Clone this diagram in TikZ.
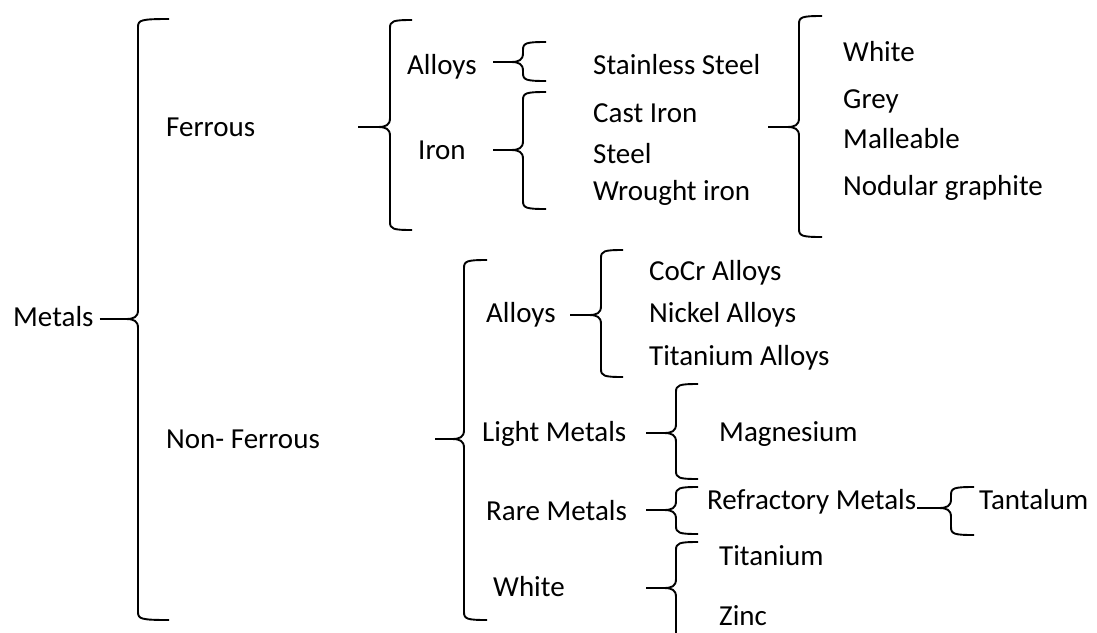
\documentclass[tikz,border=0pt]{standalone}
\usepackage{fontspec}
\setmainfont{Carlito}
\begin{document}
\begin{tikzpicture}[x=1pt,y=-1pt,
  curly/.style={line width=1.9pt, line join=round},
  lbl/.style={anchor=base west, inner sep=0pt, font=\fontsize{29}{34}\selectfont}]
\useasboundingbox (0,0) rectangle (1097,632);
\clip (0,0) rectangle (1097,632);

% #1 tip name, #2 spine x, #3 top y, #4 tip y, #5 bottom y, #6 end x of the hooks
\newcommand{\drawcurly}[6]{%
  \coordinate (#1) at (#2-12,#4);
  \draw[curly] (#6,#3) .. controls (#2+3,#3) and (#2,#3+1) .. (#2,#3+8)
    -- (#2,#4-9) .. controls (#2,#4-2) and (#2-4,#4) .. (#1)
    .. controls (#2-4,#4) and (#2,#4+2) .. (#2,#4+9)
    -- (#2,#5-8) .. controls (#2,#5-1) and (#2+3,#5) .. (#6,#5);
}

% labels
\node[lbl] (metals) at (13,326) {Metals};
\node[lbl] (ferrous) at (166,136) {Ferrous};
\node[lbl] (nonferrous) at (166,448) {Non- Ferrous};
\node[lbl] (falloys) at (407,74) {Alloys};
\node[lbl] (iron) at (418,159) {Iron};
\node[lbl] (stainless) at (593,74) {Stainless Steel};
\node[lbl] (castiron) at (593,122) {Cast Iron};
\node[lbl] (steel) at (593,163) {Steel};
\node[lbl] (wrought) at (593,200) {Wrought iron};
\node[lbl] (cwhite) at (843,61) {White};
\node[lbl] (grey) at (843,108) {Grey};
\node[lbl] (malleable) at (843,148) {Malleable};
% the text box of this label trims its descenders
\begin{scope}
  \clip (835,160) rectangle (1070,199);
  \node[lbl] (nodular) at (843,195) {Nodular graphite};
\end{scope}
\node[lbl] (nfalloys) at (486,322) {Alloys};
\node[lbl] (light) at (482,441) {Light Metals};
\node[lbl] (rare) at (486,520) {Rare Metals};
\node[lbl] (nfwhite) at (493,596) {White};
\node[lbl] (cocr) at (649,280) {CoCr Alloys};
\node[lbl] (nickel) at (649,322) {Nickel Alloys};
\node[lbl] (titalloys) at (649,365) {Titanium Alloys};
\node[lbl] (magnesium) at (719,441) {Magnesium};
\node[lbl] (refr) at (707,509) {Refractory Metals};
\node[lbl] (tantalum) at (979,509) {Tantalum};
\node[lbl] (titanium) at (719,565) {Titanium};
\node[lbl] (zinc) at (719,625) {Zinc};

% braces
\drawcurly{tMetals}{138}{19}{319}{620}{169}
\drawcurly{tFerrous}{390}{20}{127}{230}{412}
\drawcurly{tFAlloys}{523}{42}{62}{81}{546}
\drawcurly{tIron}{523}{92}{150}{209}{546}
\drawcurly{tCast}{799}{16}{127}{237}{822}
\drawcurly{tNonFerrous}{464}{260}{439}{620}{487}
\drawcurly{tNFAlloys}{601}{250}{315}{377}{623}
\drawcurly{tLight}{676}{384}{433}{479}{698}
\drawcurly{tRare}{676}{487}{510}{534}{698}
\drawcurly{tWhite}{676}{542}{588}{660}{698}
\drawcurly{tRefr}{951}{487}{508}{535}{974}

% free starting points of the stubs
\coordinate (sFerrous) at (358,127);
\coordinate (sFAlloys) at (493,62);
\coordinate (sIron) at (493,150);
\coordinate (sCast) at (768,127);
\coordinate (sNonFerrous) at (435,439);
\coordinate (sNFAlloys) at (570,315);
\coordinate (sLight) at (646,433);
\coordinate (sRare) at (646,510);
\coordinate (sWhite) at (646,588);

% stubs into the brace tips
\draw[curly] (metals.east |- tMetals) ++(6,0) -- (tMetals);
\draw[curly] (sFerrous) -- (tFerrous);
\draw[curly] (sFAlloys) -- (tFAlloys);
\draw[curly] (sIron) -- (tIron);
\draw[curly] (sCast) -- (tCast);
\draw[curly] (sNonFerrous) -- (tNonFerrous);
\draw[curly] (sNFAlloys) -- (tNFAlloys);
\draw[curly] (sLight) -- (tLight);
\draw[curly] (sRare) -- (tRare);
\draw[curly] (sWhite) -- (tWhite);
\draw[curly] (refr.east |- tRefr) ++(1,0) -- (tRefr);
\end{tikzpicture}
\end{document}
